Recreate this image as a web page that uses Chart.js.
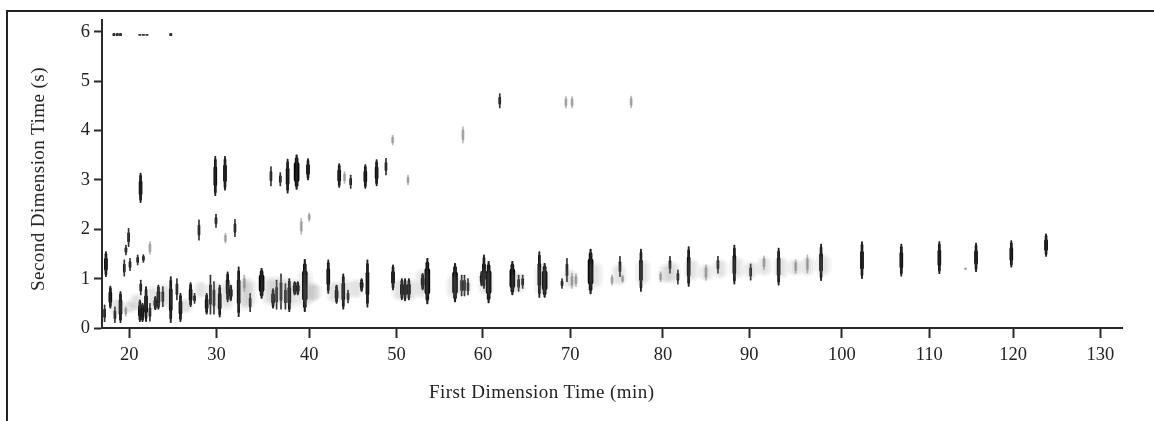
<!DOCTYPE html>
<html>
<head>
<meta charset="utf-8">
<style>
  html, body { margin: 0; background: #fff; }
  #wrap { position: relative; width: 1154px; height: 421px; overflow: hidden; filter: blur(0.25px); }
  #frame { position: absolute; left: 6px; top: 10px; right: -10px; bottom: -10px; border-left: 2px solid #222; border-top: 2px solid #222; }
  canvas { position: absolute; left: 0; top: 0; }
  .caption { position: absolute; font-family: 'Liberation Serif', serif; font-size: 19px; letter-spacing: 0.45px; color: #222; white-space: nowrap; }
  #xcaption { left: 429px; top: 381px; }
  #ycaption { left: 38px; top: 179px; transform: translate(-50%, -50%) rotate(-90deg); }
</style>
</head>
<body>
<div id="wrap">
  <div id="frame"></div>
  <canvas id="ch-2d" width="1154" height="421"></canvas>
  <div class="caption" id="xcaption">First Dimension Time (min)</div>
  <div class="caption" id="ycaption">Second Dimension Time (s)</div>
</div>
<script src="https://cdn.jsdelivr.net/npm/chart.js@4"></script>
<script>
const X_TICK_POS = [20, 29.9, 40.4, 50.3, 60.1, 70, 80.5, 90.3, 100.8, 110.7, 120.2, 130.1];
const X_TICK_LABELS = ["20", "30", "40", "50", "60", "70", "80", "90", "100", "110", "120", "130"];
const Y_TICK_POS = [0, 1, 2, 3, 4, 5, 6];

// Widest, darkest peaks
const wideTimes = [35.0, 38.97, 39.9, 53.79, 56.93, 60.74, 63.43, 67.09, 72.3];
const wideLow   = [0.6, 2.81, 0.33, 0.49, 0.53, 0.51, 0.67, 0.62, 0.69];
const wideHigh  = [1.21, 3.51, 1.39, 1.41, 1.31, 1.35, 1.35, 1.31, 1.6];

// Dark peaks
const heavyTimes = [17.35, 17.85, 19.0, 21.2, 21.5, 21.9, 22.95, 23.3, 24.7, 25.8, 26.95, 28.77, 30.25, 31.15, 31.5, 32.4,
  36.3, 38.14, 38.75, 39.1, 42.56, 43.5, 44.26, 46.34, 47.0, 49.9, 50.9, 51.26, 51.7, 53.26, 59.95, 60.21, 66.49,
  78.01, 83.42, 88.6, 93.62, 98.43, 103.07, 107.53, 111.84, 116.0, 120.0, 123.94,
  21.28, 29.75, 30.85, 37.95, 40.26, 43.8, 46.76, 48.04];
const heavyLow = [1.04, 0.40, 0.11, 0.13, 0.13, 0.13, 0.37, 0.38, 0.11, 0.13, 0.43, 0.28, 0.22, 0.53, 0.55, 0.23,
  0.4, 0.33, 0.67, 0.67, 0.7, 0.5, 0.38, 0.74, 0.42, 0.77, 0.57, 0.55, 0.57, 0.77, 0.85, 0.8, 0.62,
  0.74, 0.84, 0.89, 0.87, 0.96, 1.0, 1.05, 1.1, 1.14, 1.23, 1.45,
  2.54, 2.68, 2.79, 2.73, 3.0, 2.85, 2.83, 2.88];
const heavyHigh = [1.55, 0.85, 0.74, 0.57, 0.5, 0.84, 0.64, 0.87, 1.04, 0.7, 0.92, 0.7, 0.87, 1.14, 0.87, 1.24,
  0.8, 1.0, 0.94, 0.94, 1.38, 0.87, 1.1, 1.0, 1.38, 1.28, 1.0, 1.0, 1.0, 1.11, 1.15, 1.48, 1.55,
  1.6, 1.65, 1.68, 1.62, 1.7, 1.75, 1.7, 1.75, 1.72, 1.77, 1.91,
  3.14, 3.48, 3.48, 3.42, 3.43, 3.33, 3.31, 3.41];

// Thinner peaks
const mediumTimes = [17.2, 18.37, 19.43, 19.62, 19.92, 20.08, 20.95, 21.6, 21.3, 22.34, 23.8, 25.4, 27.4, 29.2, 29.6, 33.7,
  36.7, 37.2, 37.7, 44.8, 27.9, 29.83, 31.98, 36.06, 37.12, 45.1, 49.1, 57.68, 58.0, 58.4, 64.14, 64.6, 69.06, 69.62,
  75.63, 81.3, 82.2, 86.74, 90.45, 62.0];
const mediumLow = [0.13, 0.11, 1.05, 1.48, 1.65, 1.16, 1.28, 1.33, 0.67, 0.14, 0.43, 0.57, 0.5, 0.28, 0.28, 0.33,
  0.38, 0.38, 0.38, 0.51, 1.78, 2.04, 1.85, 2.88, 2.88, 2.83, 3.1, 0.65, 0.65, 0.67, 0.74, 0.8, 0.8, 0.94,
  1.04, 1.11, 0.89, 1.11, 0.97, 4.46];
const mediumHigh = [0.47, 0.43, 1.38, 1.68, 2.02, 1.41, 1.48, 1.49, 0.97, 0.5, 0.84, 1.0, 0.7, 1.07, 0.94, 0.7,
  0.97, 1.1, 0.9, 0.77, 2.19, 2.31, 2.2, 3.27, 3.15, 3.1, 3.44, 1.07, 1.07, 1.0, 1.07, 1.07, 1.0, 1.41,
  1.45, 1.45, 1.18, 1.45, 1.3, 4.75];

// Pale peaks
const paleTimes = [19.6, 22.34, 30.9, 33.04, 39.5, 40.4, 44.4, 49.86, 51.6, 57.83, 69.5, 70.2, 70.19, 70.64, 74.73, 75.93,
  76.9, 80.24, 85.38, 91.96, 95.55, 96.88, 114.8];
const paleLow = [0.24, 1.49, 1.72, 0.74, 1.9, 2.16, 2.93, 3.71, 2.9, 3.75, 4.46, 4.46, 0.8, 0.84, 0.87, 0.92,
  4.46, 0.94, 0.97, 1.18, 1.11, 1.11, 1.18];
const paleHigh = [0.43, 1.75, 1.92, 1.07, 2.22, 2.33, 3.17, 3.91, 3.1, 4.08, 4.69, 4.69, 1.11, 1.1, 1.07, 1.07,
  4.7, 1.14, 1.28, 1.46, 1.38, 1.48, 1.22];

// Tiny spots along the 6 s line
const spotTimes = [18.26, 18.64, 19.0, 21.2, 21.6, 22.0, 24.7];
const spotLow   = [5.92, 5.92, 5.92, 5.93, 5.93, 5.93, 5.92];
const spotHigh  = [5.97, 5.97, 5.97, 5.95, 5.95, 5.95, 5.97];

// Grey haze behind the clusters
const hazeTimes = [18.6, 20.0, 20.8, 22.7, 24.0, 26.4, 28.1, 29.6, 31.0, 33.0, 33.6, 35.8, 36.6, 37.5, 38.5, 39.9, 40.6, 41.0, 43.2, 44.4, 45.7, 50.6, 51.9, 53.2, 56.8, 58.0,
  60.4, 64.0, 66.8, 70.0, 72.8, 75.5, 78.2, 80.8, 81.6, 83.8, 85.4, 87.0, 88.9, 90.5, 92.0, 93.9, 95.5, 96.9, 98.7];
const hazeLow = [0.25, 0.3, 0.35, 0.35, 0.4, 0.3, 0.6, 0.3, 0.35, 0.35, 0.4, 0.45, 0.45, 0.45, 0.4, 0.4, 0.5, 0.55, 0.5, 0.5, 0.6, 0.55, 0.55, 0.6, 0.6, 0.65,
  0.65, 0.7, 0.65, 0.8, 0.8, 0.85, 0.85, 0.9, 0.9, 0.95, 0.95, 1.0, 1.0, 1.0, 1.05, 1.0, 1.05, 1.05, 1.05];
const hazeHigh = [0.6, 0.55, 0.7, 0.85, 0.9, 0.6, 0.95, 0.95, 0.95, 1.05, 1.0, 1.05, 1.05, 1.05, 1.0, 1.2, 0.95, 0.9, 0.95, 1.0, 1.0, 1.0, 1.0, 1.2, 1.1, 1.05,
  1.2, 1.15, 1.3, 1.2, 1.35, 1.3, 1.4, 1.3, 1.35, 1.4, 1.3, 1.4, 1.45, 1.35, 1.45, 1.45, 1.4, 1.45, 1.5];

const AXIS_COLOR = "#2a2a2a";
const TICK_FONT = { family: "'Liberation Serif', serif", size: 18.5 };

// a peak drawn as a floating rounded bar, trimmed inwards for the fatter middle of the spot
function peakData(times, low, high, trim) {
  return times.map((t, i) => {
    const cut = (high[i] - low[i]) * trim;
    return { x: t, y: [low[i] + cut, high[i] - cut] };
  });
}

function peakSet(times, low, high, trim, thickness, color) {
  return {
    data: peakData(times, low, high, trim),
    backgroundColor: color,
    barThickness: thickness,
    borderRadius: thickness,
    borderSkipped: false,
    grouped: false
  };
}

new Chart(document.getElementById("ch-2d"), {
  type: "bar",
  data: {
    datasets: [
      peakSet(hazeTimes, hazeLow, hazeHigh, 0, 16, "rgba(130,130,130,0.07)"),
      peakSet(hazeTimes, hazeLow, hazeHigh, 0.08, 11, "rgba(130,130,130,0.08)"),
      peakSet(hazeTimes, hazeLow, hazeHigh, 0.16, 6, "rgba(130,130,130,0.09)"),
      peakSet(paleTimes, paleLow, paleHigh, 0, 1, "rgba(100,100,100,0.45)"),
      peakSet(paleTimes, paleLow, paleHigh, 0.2, 2.5, "rgba(120,120,120,0.4)"),
      peakSet(spotTimes, spotLow, spotHigh, 0, 2.5, "#333333"),
      peakSet(mediumTimes, mediumLow, mediumHigh, 0, 1, "#333333"),
      peakSet(mediumTimes, mediumLow, mediumHigh, 0.25, 2, "#111111"),
      peakSet(heavyTimes, heavyLow, heavyHigh, 0, 1.2, "#222222"),
      peakSet(heavyTimes, heavyLow, heavyHigh, 0.08, 2, "#111111"),
      peakSet(heavyTimes, heavyLow, heavyHigh, 0.26, 3, "#000000"),
      peakSet(wideTimes, wideLow, wideHigh, 0, 1.5, "#222222"),
      peakSet(wideTimes, wideLow, wideHigh, 0.08, 3, "#0a0a0a"),
      peakSet(wideTimes, wideLow, wideHigh, 0.22, 5, "#000000")
    ]
  },
  options: {
    responsive: false,
    animation: false,
    layout: { padding: { top: 20, right: 32 } },
    plugins: { legend: { display: false }, tooltip: { enabled: false } },
    scales: {
      x: {
        type: "linear",
        min: 16.905,
        max: 132.55,
        offset: false,
        afterFit: axis => { axis.height = 93; },
        afterBuildTicks: axis => { axis.ticks = X_TICK_POS.map(v => ({ value: v })); },
        grid: { offset: false, drawOnChartArea: false, tickLength: 10, tickColor: AXIS_COLOR, tickWidth: 2 },
        border: { color: AXIS_COLOR, width: 2 },
        ticks: {
          color: "#222", font: TICK_FONT, padding: 6, maxRotation: 0,
          callback: (v, i) => X_TICK_LABELS[i]
        }
      },
      y: {
        type: "linear",
        min: 0,
        max: 6.24,
        afterFit: axis => { axis.width = 102; },
        afterBuildTicks: axis => { axis.ticks = Y_TICK_POS.map(v => ({ value: v })); },
        grid: { drawOnChartArea: false, tickLength: 8, tickColor: AXIS_COLOR, tickWidth: 2 },
        border: { color: AXIS_COLOR, width: 2 },
        ticks: { color: "#222", font: TICK_FONT, padding: 4, callback: v => String(v) }
      }
    }
  }
});
</script>
</body>
</html>
